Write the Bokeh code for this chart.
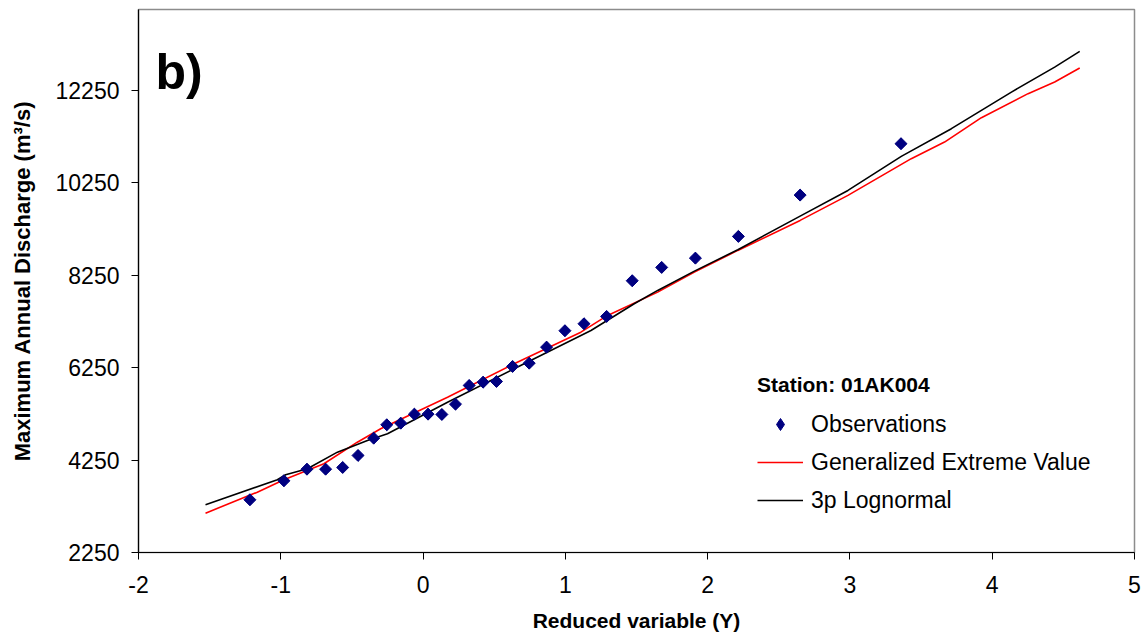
import math
from bokeh.plotting import figure
from bokeh.models import (ColumnDataSource, FixedTicker, Legend, LegendItem,
                          Label, Range1d)
from bokeh.embed import file_html
from bokeh.resources import INLINE

# ---------------- data ----------------
obs_y = [-1.217, -0.978, -0.816, -0.685, -0.565, -0.457, -0.347, -0.255,
         -0.157, -0.061, 0.035, 0.132, 0.228, 0.324, 0.422, 0.516, 0.629,
         0.746, 0.868, 0.997, 1.131, 1.290, 1.470, 1.677, 1.914, 2.216,
         2.650, 3.359]
obs_q = [3391, 3802, 4053, 4053, 4090, 4350, 4724, 5014, 5049, 5244, 5244,
         5237, 5460, 5865, 5936, 5951, 6276, 6347, 6694, 7049, 7200, 7358,
         8131, 8419, 8620, 9090, 9984, 11096]

gev_y = [-1.529, -1.165, -0.978, -0.697, -0.462, -0.298, 0.172, 0.640,
         1.109, 1.297, 1.649, 1.907, 2.212, 2.650, 2.986, 3.431, 3.665,
         3.924, 4.252, 4.439, 4.615]
gev_q = [3101, 3555, 3824, 4170, 4637, 4927, 5611, 6334, 7018, 7380, 7884,
         8317, 8787, 9436, 9977, 10772, 11131, 11659, 12179, 12430, 12733]

ln3_y = [-1.529, -1.024, -0.966, -0.813, -0.602, -0.391, -0.250, 0.172,
         0.640, 1.180, 1.484, 1.649, 1.907, 2.212, 2.650, 2.986, 3.361,
         3.713, 3.924, 4.135, 4.439, 4.615]
ln3_q = [3282, 3824, 3932, 4062, 4421, 4674, 4819, 5503, 6226, 7055, 7633,
         7921, 8339, 8802, 9529, 10085, 10821, 11421, 11817, 12213, 12754,
         13094]

y_ticks = [2250, 4250, 6250, 8250, 10250, 12250]
x_ticks = [-2, -1, 0, 1, 2, 3, 4, 5]
x_tick_labels = ["-2", "-1", "0", "1", "2", "3", "4", "5"]

FONT = "Liberation Sans"
NAVY = "#000080"

p = figure(width=1143, height=639, output_backend="svg", toolbar_location=None,
           x_range=Range1d(-2, 5), y_range=Range1d(2250, 14000),
           min_border_left=138, min_border_right=9, min_border_top=9,
           min_border_bottom=87)
p.background_fill_color = "white"
p.border_fill_color = "white"
p.outline_line_color = "#8c8c8c"
p.outline_line_width = 1.5
p.xgrid.visible = False
p.ygrid.visible = False

obs_src = ColumnDataSource(dict(x=obs_y, y=obs_q,
                                ang=[math.pi / 4] * len(obs_y)))

r_gev = p.line(gev_y, gev_q, line_color="#ff0000", line_width=1.6)
r_ln3 = p.line(ln3_y, ln3_q, line_color="#000000", line_width=1.6)
# diamond drawn underneath (gives the legend key its diamond shape)
r_obs_key = p.scatter("x", "y", source=obs_src, marker="diamond", size=11,
                      fill_color=NAVY, line_color=NAVY, line_width=1)
# rotated squares on top (square diamonds as in the reference)
r_obs = p.scatter("x", "y", source=obs_src, marker="square", size=8.5,
                  angle="ang", fill_color=NAVY, line_color=NAVY)

for ax in (p.xaxis[0], p.yaxis[0]):
    ax.axis_line_color = "black"
    ax.axis_line_width = 1.2
    ax.major_tick_line_color = "black"
    ax.major_tick_out = 7
    ax.major_tick_in = 0
    ax.minor_tick_out = 0
    ax.minor_tick_in = 0
    ax.major_label_text_font = FONT
    ax.major_label_text_font_size = "23px"
    ax.major_label_text_color = "black"
    ax.axis_label_text_font = FONT
    ax.axis_label_text_font_style = "bold"
    ax.axis_label_text_color = "black"

p.xaxis[0].ticker = FixedTicker(ticks=x_ticks)
p.xaxis[0].major_label_overrides = {t: s for t, s in zip(x_ticks, x_tick_labels)}
p.yaxis[0].ticker = FixedTicker(ticks=y_ticks)
p.xaxis[0].axis_label = "Reduced variable (Y)"
p.yaxis[0].axis_label = "Maximum Annual Discharge (m³/s)"
p.xaxis[0].axis_label_text_font_size = "21px"
p.yaxis[0].axis_label_text_font_size = "22px"
p.xaxis[0].major_label_standoff = 16
p.yaxis[0].major_label_standoff = 12
p.xaxis[0].axis_label_standoff = 13
p.yaxis[0].axis_label_standoff = 18

legend = Legend(items=[
    LegendItem(label="Observations", renderers=[r_obs_key]),
    LegendItem(label="Generalized Extreme Value", renderers=[r_gev]),
    LegendItem(label="3p Lognormal", renderers=[r_ln3]),
], location=(619, 37))
legend.title = "Station: 01AK004"
legend.title_text_font = FONT
legend.title_text_font_style = "bold"
legend.title_text_font_size = "21px"
legend.title_text_color = "black"
legend.title_standoff = 12
legend.label_text_font = FONT
legend.label_text_font_size = "23px"
legend.label_text_color = "black"
legend.label_standoff = 8
legend.glyph_width = 46
legend.glyph_height = 30
legend.label_height = 22
legend.spacing = 8
legend.padding = 0
legend.margin = 0
legend.border_line_color = None
legend.background_fill_alpha = 0
p.add_layout(legend, "center")

p.add_layout(Label(x=-1.88, y=12640, text="b)", text_font=FONT,
                   text_font_style="bold", text_font_size="50px",
                   text_color="black", text_baseline="alphabetic"))

open("out.html", "w").write(file_html(p, INLINE))
